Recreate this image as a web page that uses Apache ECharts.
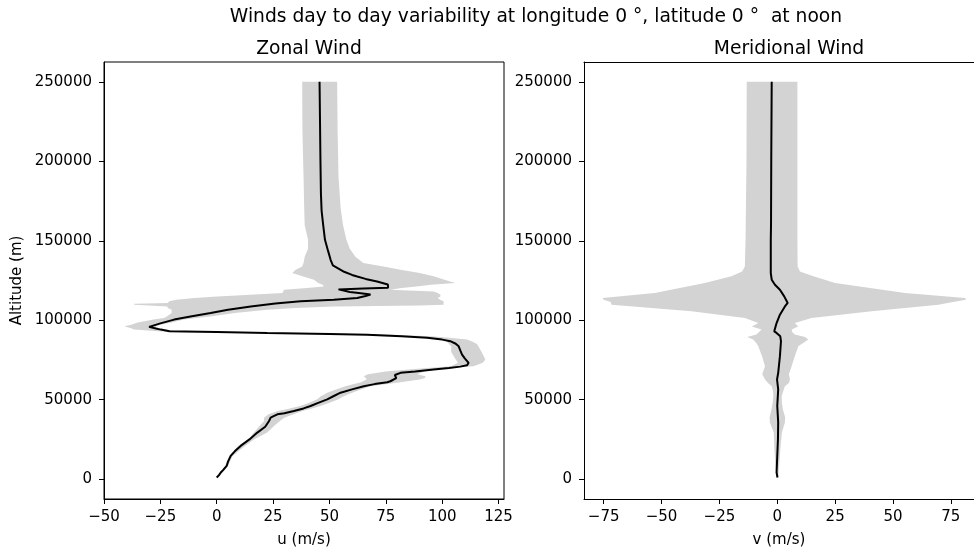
<!DOCTYPE html>
<html><head><meta charset="utf-8">
<script src="https://cdn.jsdelivr.net/npm/echarts@6/dist/echarts.min.js"></script>
<style>html,body{margin:0;padding:0;background:#fff}#c{width:974px;height:553px}</style>
</head><body><div id="c"></div>
<script>
const altTicks = [0, 50000, 100000, 150000, 200000, 250000];
const uTicks = [-50, -25, 0, 25, 50, 75, 100, 125];
const vTicks = [-75, -50, -25, 0, 25, 50, 75];

// Zonal wind mean profile
const zonalAlt = [250000,225000,200000,180000,169000,160000,150600,143000,138000,134500,132500,130500,128500,127500,126000,124400,122500,120500,120000,119400,118600,117800,117100,116200,115200,114000,112900,111900,110500,108700,106600,104600,102500,100400,98000,95800,94800,94100,93100,92600,92000,91300,90800,89900,88900,87800,86800,85200,83600,81000,78400,76000,73200,71600,70800,70000,69000,67800,66900,65500,64800,63600,62700,61600,61000,59800,58500,56500,54400,52000,50200,48000,46000,44500,42900,41500,40800,39500,38700,36600,33000,29300,25000,20900,17500,14600,11000,8300,6000,4200,2500,1000];
const zonalMean = [45.6,45.8,46,46.2,46.5,47.2,48,49.5,50.5,51.5,54,56.5,60,62.3,66,71.1,75.9,76,65,54,53.7,59,63,68.2,66,62.3,51.9,37.2,26,15.1,5,-2.7,-11,-18.9,-25,-30,-27,-24.8,-21,0,22.4,50,66.7,82,93.3,100,103.6,106,107.3,108,108.8,110,111.7,111,108,103,96.2,88,81.5,79,78.2,79.6,79.2,77,75.6,70,65.2,60,54.9,51.5,49,45,41.6,38.5,34.2,30,26.9,25,23.9,23.2,21.5,18,14.5,10.6,8,6.2,5,4.4,3,1.8,1,0];

// Zonal wind variability band
const zonalFillAlt = [250000,220000,190000,170000,160000,150600,145000,140000,136000,133800,131700,129700,127600,125500,123400,122300,121300,120300,119200,118100,117100,116100,115000,114000,112900,111900,110900,110300,109800,109300,108700,107700,106600,104600,102500,101400,100400,98500,97200,96200,95000,94100,93100,92600,92000,91000,89900,88900,87800,86800,85000,83600,80000,75300,73200,71100,69800,69000,67800,66000,64800,63800,62700,61000,59600,58500,56000,54400,52000,50200,48000,46000,44000,42900,40800,38700,36600,33400,29300,25000,20900,14600,8300,1000];
const zonalLow = [37.9,38,38.5,38.8,39,40.5,40.5,39,38.5,37.9,35,33.5,38,43.1,45,47,47.5,40,29.8,29.5,29.1,15,0.3,-10,-18,-21,-21.8,-36.6,-36.6,-30,-21.8,-21.8,-20,-20,-22,-23.3,-28,-35,-38,-41,-38,-36.6,-26,-20.4,20,65,80,92,99,102,103,104,104,106,107,104,92,85,75,67,65.2,66,66.5,64,60,57,52,49,46,44.6,41,37,31,27,23,21,21,19,16.5,14,9.5,5.5,3.8,-0.5];
const zonalHigh = [53.4,53.6,54,55,56,57.5,59,61.5,65,74,81.5,90,96.2,101,105.8,95,88.5,82,77,96.2,98,99.2,99.2,98,99,100.6,100.6,100.6,100.6,90,51.9,35,22.4,8,-2,-9,-14.5,-20,-25,-27,-26,-22,-18,5,30,75,95,103,111,113,115.4,116,117.5,119.1,118,113.9,100,96.2,92,89,92.5,92.5,90,81.5,74,68,63,60,56,54,50,46,41,38,34,30,28,25.4,22.4,16.5,12.5,7,5,0.5];

// Meridional wind mean profile
const merAlt = [250000,200000,160000,150600,129700,125500,122300,119200,115000,110900,108700,103500,98200,93000,92000,89900,86800,77400,66900,62700,56500,46000,35600,25100,14600,4200,1000];
const merMean = [-2.4,-2.6,-2.7,-2.8,-2.8,-2.4,-1,1.15,3,4.5,3.3,1.15,-0.3,-1.3,-0.3,1.3,1.6,1.15,0.4,-0.1,0.4,0,0.4,0.3,0,-0.3,0.1];

// Meridional wind variability band
const merFillAlt = [250000,200000,150600,133800,130700,127600,123400,117100,114000,112900,111500,109800,105600,101400,98200,96000,94100,92500,91000,89500,87800,85500,83600,77000,71100,66000,62700,60500,58500,55000,52200,48000,44000,39000,35600,29300,20000,10000,1000];
const merLow = [-13.2,-13.3,-13.7,-14,-15.2,-19.8,-31.3,-52.9,-75.5,-75,-72,-71.6,-37,-14,-8.2,-11,-6.8,-8,-9,-13,-10.4,-9,-8.2,-6.5,-5.3,-6.5,-5.3,-4,-2.4,-1.8,-1.7,-2,-2.5,-3.3,-3.2,-1.5,-1.3,-0.9,-0.3];
const merHigh = [8.7,8.7,8.7,8.8,9.8,15.6,25,55.2,81.2,81.5,76,69.6,40.8,14.8,7.6,9,6.2,6.5,7.6,12,13.4,11,9.1,7.5,6.2,5,5.5,5,3.3,2.5,1.9,2,2.4,3.4,3.3,2,1.4,0.9,0.4];

const FONT = 'DejaVu Sans';
const TICK_FS = 15;
const TITLE_FS = 18.7;

function band(alts, lo, hi, gi) {
  return {
    type: 'custom', xAxisIndex: gi, yAxisIndex: gi, silent: true, z: 1,
    data: [[0, 0]],
    renderItem: function (params, api) {
      const pts = [];
      for (let i = 0; i < alts.length; i++) pts.push(api.coord([lo[i], alts[i]]));
      for (let i = alts.length - 1; i >= 0; i--) pts.push(api.coord([hi[i], alts[i]]));
      return { type: 'polygon', shape: { points: pts }, style: { fill: '#d3d3d3', stroke: null } };
    }
  };
}
function profile(alts, vals, gi, xi) {
  return {
    type: 'line', xAxisIndex: xi, yAxisIndex: gi, z: 3, silent: true,
    symbol: 'none', showSymbol: false,
    lineStyle: { color: '#000', width: 2 },
    data: alts.map((a, i) => [vals[i], a])
  };
}
function xAx(gi, min, max, ticks, name) {
  return {
    gridIndex: gi, type: 'value', min: min, max: max, position: 'bottom',
    name: name, nameLocation: 'middle', nameGap: 34,
    nameTextStyle: { color: '#000', fontSize: TICK_FS, fontFamily: FONT },
    axisLine: { show: true, onZero: false, lineStyle: { color: '#000', width: 1 } },
    axisTick: { show: true, length: 5, customValues: ticks, lineStyle: { color: '#000' } },
    axisLabel: { customValues: ticks, color: '#000', fontSize: TICK_FS, fontFamily: FONT, margin: 11,
      formatter: v => (v < 0 ? '\u2212' + Math.abs(v) : '' + v) },
    splitLine: { show: false }
  };
}
function topBorder(gi, min, max) {
  return {
    gridIndex: gi, type: 'value', min: min, max: max, position: 'top',
    axisLine: { show: true, onZero: false, lineStyle: { color: '#000', width: 1 } },
    axisTick: { show: false }, axisLabel: { show: false }, splitLine: { show: false }
  };
}
function yAx(gi, name) {
  return {
    gridIndex: gi, type: 'value', min: -12500, max: 262500,
    name: name, nameLocation: 'middle', nameGap: 79,
    nameTextStyle: { color: '#000', fontSize: TICK_FS, fontFamily: FONT },
    axisLine: { show: true, onZero: false, lineStyle: { color: '#000', width: 1 } },
    axisTick: { show: true, length: 5, customValues: altTicks, lineStyle: { color: '#000' } },
    axisLabel: { customValues: altTicks, color: '#000', fontSize: TICK_FS, fontFamily: FONT, margin: 12,
      formatter: v => String(v) },
    splitLine: { show: false }
  };
}

const chart = echarts.init(document.getElementById('c'), null, { renderer: 'canvas' });
chart.setOption({
  animation: false,
  backgroundColor: '#fff',
  textStyle: { fontFamily: FONT },
  title: [
    { text: 'Winds day to day variability at longitude 0 \u00b0, latitude 0 \u00b0  at noon', left: 531, top: 3, textAlign: 'center',
      textStyle: { fontSize: TITLE_FS, fontWeight: 'normal', color: '#000', fontFamily: FONT } },
    { text: 'Zonal Wind', left: 304, top: 35, textAlign: 'center',
      textStyle: { fontSize: TITLE_FS, fontWeight: 'normal', color: '#000', fontFamily: FONT } },
    { text: 'Meridional Wind', left: 784, top: 35, textAlign: 'center',
      textStyle: { fontSize: TITLE_FS, fontWeight: 'normal', color: '#000', fontFamily: FONT } }
  ],
  grid: [
    { left: 104, top: 62, width: 400, height: 438, show: true, borderColor: '#000', borderWidth: 1, containLabel: false },
    { left: 584, top: 62, right: 0, height: 438, show: false, containLabel: false }
  ],
  xAxis: [
    xAx(0, -50, 127.4, uTicks, 'u (m/s)'),
    xAx(1, -83.5, 85.0, vTicks, 'v (m/s)'),
    topBorder(1, -83.5, 85.0)
  ],
  yAxis: [yAx(0, 'Altitude (m)'), yAx(1, '')],
  series: [
    band(zonalFillAlt, zonalLow, zonalHigh, 0),
    profile(zonalAlt, zonalMean, 0, 0),
    Object.assign(band(merFillAlt, merLow, merHigh, 1), { xAxisIndex: 1 }),
    profile(merAlt, merMean, 1, 1)
  ]
});
</script>
</body></html>
